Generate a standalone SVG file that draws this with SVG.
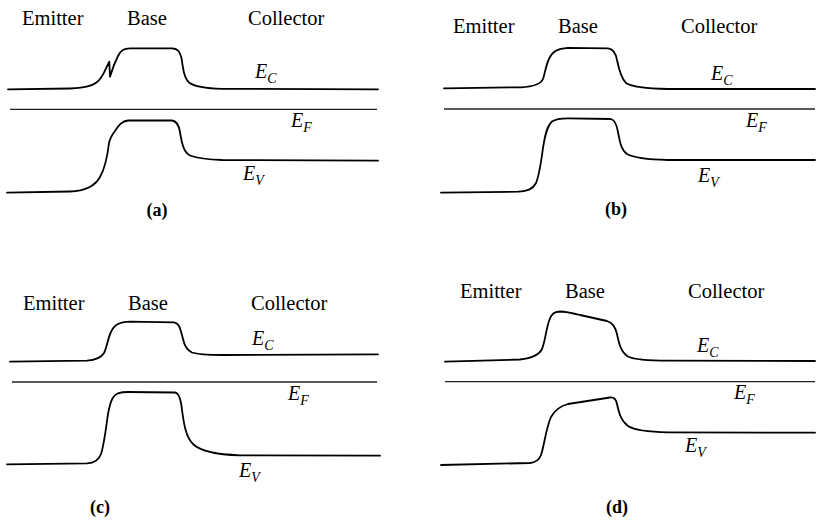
<svg xmlns="http://www.w3.org/2000/svg" width="816" height="520" viewBox="0 0 816 520">
<style>
  .lbl { font-family: "Liberation Serif", "Times New Roman", serif; font-size: 20.5px; fill: #000; }
  .e { font-family: "Liberation Serif", "Times New Roman", serif; font-size: 20px; font-style: italic; fill: #000; }
  .sub { font-size: 14px; }
  .cap { font-family: "Liberation Serif", "Times New Roman", serif; font-size: 18px; font-weight: bold; text-anchor: middle; fill: #000; }
  .band { fill: none; stroke: #000; stroke-width: 1.8; stroke-linejoin: round; stroke-linecap: round; }
  .fermi { fill: none; stroke: #222; stroke-width: 1.3; }
</style>
<rect width="816" height="520" fill="#fff"/>

<g id="panel-a">
  <text class="lbl" x="22" y="25">Emitter</text>
  <text class="lbl" x="127" y="25">Base</text>
  <text class="lbl" x="248" y="25">Collector</text>
  <path class="band" d="M8,89.3 L70,88.5 C85,88 95,86 100,79 C104,74 106,68 109.3,61.7 L110,76.7 C112,70 115,62 118,56 C121,50 124,48.5 130,48.3 L172,48.3 C178,48.5 180,52 181.5,58 C183,68 184,78 189,82.5 C195,87 207,88.5 222,88.8 L378,89.3"/>
  <line class="fermi" x1="10" y1="109.3" x2="377" y2="109.3"/>
  <path class="band" d="M7,192.7 L70,191.5 C85,191 95,186 100,177 C104,170 107,160 109,143 C110,138 112,135 115,131 C119,125 122,121 128,120.5 L172,120.5 C177,121 179,126 180,132 C182,145 184,152 190,155.5 C197,158 208,159.5 222,160 L378,160.7"/>
  <text class="e" x="255" y="78.3">E<tspan class="sub" dy="5">C</tspan></text>
  <text class="e" x="291" y="126.7">E<tspan class="sub" dy="5">F</tspan></text>
  <text class="e" x="243" y="180">E<tspan class="sub" dy="5">V</tspan></text>
  <text class="cap" x="157" y="216">(a)</text>
</g>

<g id="panel-b">
  <text class="lbl" x="453" y="33">Emitter</text>
  <text class="lbl" x="558" y="33">Base</text>
  <text class="lbl" x="681" y="33">Collector</text>
  <path class="band" d="M444,88.3 L521,87.3 C535,86.5 541,84 543,79 C545,73 546,65 549,59 C552,52 557,48.5 568,47.8 L608,48.3 C614,49 616,54 617,60 C619,70 621,78 626,83 C632,87 645,88.5 668,89 L815,89"/>
  <line class="fermi" x1="444" y1="109" x2="815" y2="109"/>
  <path class="band" d="M441,192.7 L518,191.7 C528,191 533,189 536,183 C539,176 541,163 543,148 C545,135 547,126 552,121.5 C556,118.5 561,118.3 568,118.3 L611,119 C615,120 617,126 618,132 C620,142 621,150 627,154 C634,158 648,159.5 668,160 L815,160"/>
  <text class="e" x="711" y="80">E<tspan class="sub" dy="5">C</tspan></text>
  <text class="e" x="746" y="127">E<tspan class="sub" dy="5">F</tspan></text>
  <text class="e" x="698" y="181.7">E<tspan class="sub" dy="5">V</tspan></text>
  <text class="cap" x="616" y="215">(b)</text>
</g>

<g id="panel-c">
  <text class="lbl" x="23" y="310">Emitter</text>
  <text class="lbl" x="128" y="310">Base</text>
  <text class="lbl" x="251" y="310">Collector</text>
  <path class="band" d="M10,361.7 L87,360.7 C96,360 101,358 104,353 C107,347 108,338 111,332 C114,325 119,322 130,321.7 L174,322.3 C179,323 180,328 182,335 C184,344 186,350 192,352.5 C198,354.5 208,355 222,355 L378,354.3"/>
  <line class="fermi" x1="12" y1="382" x2="377" y2="382"/>
  <path class="band" d="M7,464.3 L87,463.3 C95,463 99,460 101,454 C104,445 106,428 108,414 C110,403 112,396 118,393.3 C121,392.3 124,392 128,392 L175,392.5 C179,393 181,400 182,410 C184,425 186,437 193,444 C200,451 215,454.5 240,455.3 L380,455.7"/>
  <text class="e" x="252" y="345">E<tspan class="sub" dy="5">C</tspan></text>
  <text class="e" x="288" y="400">E<tspan class="sub" dy="5">F</tspan></text>
  <text class="e" x="239" y="476.7">E<tspan class="sub" dy="5">V</tspan></text>
  <text class="cap" x="100" y="513">(c)</text>
</g>

<g id="panel-d">
  <text class="lbl" x="460" y="298">Emitter</text>
  <text class="lbl" x="565" y="298">Base</text>
  <text class="lbl" x="688" y="298">Collector</text>
  <path class="band" d="M445,361.7 L520,359.5 C533,358 539,355 542,349 C545,342 546,330 549,321 C551,314 554,311.7 560,311.5 C566,311.5 572,313 580,315 L607,321 C613,323 615,327 617,334 C619,344 621,352 628,356.5 C635,360 648,360.7 668,360.7 L815,361"/>
  <line class="fermi" x1="445" y1="381.7" x2="815" y2="381.7"/>
  <path class="band" d="M441,465 L530,463 C536,462.5 539,460 541,455 C544,447 546,428 551,417 C555,410 560,406 568,404 L610,397.5 C614,397 616,399 617,404 C619,413 621,421 628,426 C635,430.5 648,432 668,432.3 L815,432.7"/>
  <text class="e" x="697" y="351.7">E<tspan class="sub" dy="5">C</tspan></text>
  <text class="e" x="734" y="399">E<tspan class="sub" dy="5">F</tspan></text>
  <text class="e" x="685" y="451.7">E<tspan class="sub" dy="5">V</tspan></text>
  <text class="cap" x="617" y="513">(d)</text>
</g>
</svg>
